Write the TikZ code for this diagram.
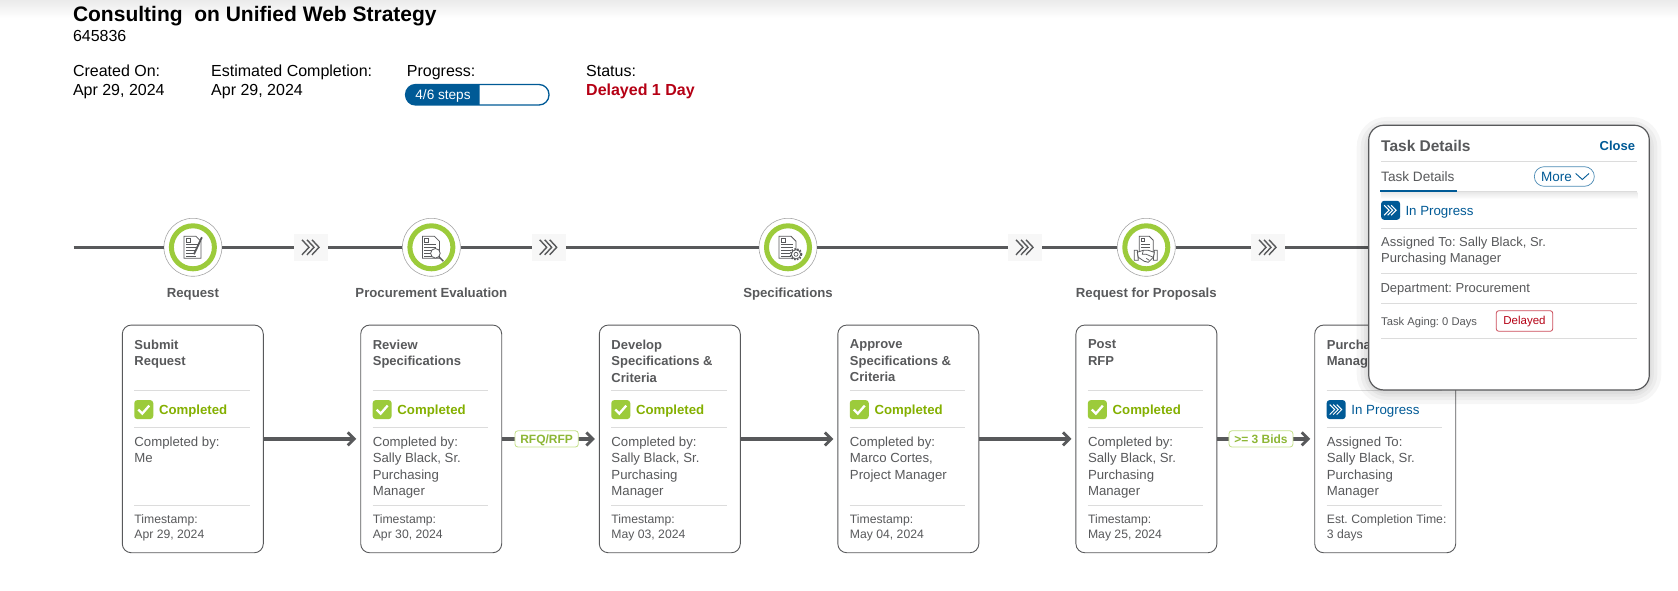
\documentclass[tikz,border=0pt]{standalone}
\usepackage{fontspec}
\setmainfont{Liberation Sans}
\usepackage{tikz}
\usetikzlibrary{calc,arrows.meta}
\frenchspacing
\definecolor{slate}{HTML}{58595B}
\definecolor{rulegray}{HTML}{DCDCDC}
\definecolor{leaf}{HTML}{9CCB3B}
\definecolor{leaftext}{HTML}{84B000}
\definecolor{navy}{HTML}{005A96}
\definecolor{alert}{HTML}{B50014}
\tikzset{
  trackline/.style={draw=slate, line width=3pt},
  flowarrow/.style={draw=slate, line width=3.4pt, shorten >=4pt, -{Straight Barb[length=6.5pt,width=13pt,line width=2.8pt]}},
  taskcard/.style={draw=slate, line width=.9pt, fill=white, rounded corners=9pt, minimum width=141pt, minimum height=227.7pt, inner sep=0pt},
  cardtitle/.style={anchor=north west, inner sep=0pt, align=left, text=slate, font=\bfseries\fontsize{13}{16.5}\selectfont, execute at begin node=\strut},
  cardtext/.style={anchor=north west, inner sep=0pt, align=left, text=slate, font=\fontsize{13.2}{16.5}\selectfont, execute at begin node=\strut},
  cardsmall/.style={anchor=north west, inner sep=0pt, align=left, text=slate, font=\fontsize{12.2}{15}\selectfont, execute at begin node=\strut},
  donetext/.style={anchor=base west, inner sep=0pt, text=leaftext, font=\bfseries\fontsize{13.2}{15}\selectfont},
  runtext/.style={anchor=base west, inner sep=0pt, text=navy, font=\fontsize{13.3}{15}\selectfont},
  edgetag/.style={draw=leaf!60, fill=white, line width=.8pt, rounded corners=3pt, inner sep=0pt, minimum height=16.3pt, text height=8.4pt, text depth=0pt, text=leaf!90!black, font=\bfseries\fontsize{12}{14}\selectfont},
  stepring/.style={circle, draw=gray!70, fill=white, line width=.6pt, minimum size=58pt, inner sep=0pt},
  steplabel/.style={anchor=base, inner sep=0pt, text=slate, font=\bfseries\fontsize{13.2}{15}\selectfont},
  chevbox/.style={fill=black!3, minimum width=34pt, minimum height=27.5pt, inner sep=0pt},
  headbig/.style={anchor=base west, inner sep=0pt, font=\bfseries\fontsize{21}{24}\selectfont},
  headtext/.style={anchor=base west, inner sep=0pt, font=\fontsize{16}{18}\selectfont},
  popupline/.style={anchor=north west, inner sep=0pt, align=left, text=slate, font=\fontsize{13}{16}\selectfont, execute at begin node=\strut},
  softshadow/.style={draw=black, opacity=.035, rounded corners=18pt},
  cardrule/.style={draw=rulegray, line width=.9pt},
  docpage/.pic={
    \draw[slate, line width=.8pt, fill=white] (-9,-11) -- (3,-11) -- (8,-6) -- (8,11) -- (-9,11) -- cycle;
    \draw[slate, line width=.7pt] (-7,-9) rectangle (-3,-5);
    \draw[slate, line width=.7pt] (-7,-2.5) -- (5,-2.5) (-7,0.5) -- (5,0.5) (-7,3.5) -- (3,3.5) (-7,6.5) -- (2,6.5) (-7,9) -- (3,9);
  },
  triplechev/.pic={
    \draw[pic actions, line width=1.4pt] (-9,-7.5) -- (-2,0) -- (-9,7.5) (-4,-7.5) -- (3,0) -- (-4,7.5) (1,-7.5) -- (8,0) -- (1,7.5);
  },
  donebadge/.pic={
    \fill[leaf, rounded corners=3pt] (-9.5,-9.5) rectangle (9.5,9.5);
    \draw[white, line width=2.3pt] (-5.5,0) -- (-1.5,4) -- (5.5,-4);
  },
  runbadge/.pic={
    \fill[navy, rounded corners=3pt] (-9.5,-9.5) rectangle (9.5,9.5);
    \draw[white, line width=1pt] (-6.5,-5) -- (-1.5,0) -- (-6.5,5) (-3,-5) -- (2,0) -- (-3,5) (.5,-5) -- (5.5,0) -- (.5,5);
  }
}
\newcommand{\cardrules}[1]{
  \draw[cardrule] ($(#1.north west)+(12.4,66.3)$) -- ($(#1.north west)+(127.7,66.3)$);
  \draw[cardrule, line width=1.4pt] ($(#1.north west)+(12.4,103)$) -- ($(#1.north west)+(127.7,103)$);
  \draw[cardrule] ($(#1.north west)+(12.4,180.7)$) -- ($(#1.north west)+(127.7,180.7)$);
}
\begin{document}
\begin{tikzpicture}[x=1pt,y=-1pt]
\useasboundingbox (0,0) rectangle (1678,591);
\shade[top color=black!8, bottom color=white] (0,0) rectangle (1678,18);

%%page heading
\node[headbig] (heading) at (72.8,22) {Consulting\ \ on Unified Web Strategy};
\node[headtext] (refnum) at (72.8,41.3) {645836};
\node[headtext] (createdkey) at (72.8,76.4) {Created On:};
\node[headtext] (createdval) at (72.8,96) {Apr 29, 2024};
\node[headtext] (estkey) at (211,76.4) {Estimated Completion:};
\node[headtext] (estval) at (211,96) {Apr 29, 2024};
\node[headtext] (progkey) at (406.7,76.4) {Progress:};
\node[headtext] (statuskey) at (586,76.4) {Status:};
\node[headtext, text=alert, font=\bfseries\fontsize{16}{18}\selectfont] (statusval) at (586,96) {Delayed 1 Day};
\draw[draw=navy, line width=1.3pt, fill=white, rounded corners=10pt] (405.6,84.5) rectangle (549,105);
\fill[navy] (479.5,84.5) [rounded corners=10pt] -- (405.6,84.5) -- (405.6,105) [sharp corners] -- (479.5,105) -- cycle;
\node[anchor=base, inner sep=0pt, text=white, font=\fontsize{13.6}{15}\selectfont] (progtext) at (443,99.5) {4/6 steps};

%%track, left to right
\coordinate (trackstart) at (73.6,247.3);
\coordinate (trackend) at (1380,247.3);
\node[stepring] (request) at (192.9,247.3) {};
\node[stepring] (evaluation) at (431.4,247.3) {};
\node[stepring] (specs) at (788,247.3) {};
\node[stepring] (proposals) at (1146.3,247.3) {};
\node[chevbox] (chevone) at (311,247.3) {};
\node[chevbox] (chevtwo) at (548.7,247.3) {};
\node[chevbox] (chevthree) at (1025,247.3) {};
\node[chevbox] (chevfour) at (1268,247.3) {};
\draw[trackline] (trackstart) -- (request);
\draw[trackline] (request) -- (chevone);
\draw[trackline] (chevone) -- (evaluation);
\draw[trackline] (evaluation) -- (chevtwo);
\draw[trackline] (chevtwo) -- (specs);
\draw[trackline] (specs) -- (chevthree);
\draw[trackline] (chevthree) -- (proposals);
\draw[trackline] (proposals) -- (chevfour);
\draw[trackline] (chevfour) -- (trackend);
\pic[draw=slate] at (chevone) {triplechev};
\pic[draw=slate] at (chevtwo) {triplechev};
\pic[draw=slate] at (chevthree) {triplechev};
\pic[draw=slate] at (chevfour) {triplechev};
\draw[draw=leaf, line width=5pt] (request) circle (21.5);
\draw[draw=leaf, line width=5pt] (evaluation) circle (21.5);
\draw[draw=leaf, line width=5pt] (specs) circle (21.5);
\draw[draw=leaf, line width=5pt] (proposals) circle (21.5);

%%step glyphs
\pic at (request) {docpage};
\draw[slate, line width=1.8pt] ($(request)+(1,7)$) -- ($(request)+(9,-10)$);
\pic at (evaluation) {docpage};
\draw[slate, line width=.8pt, fill=white] ($(evaluation)+(4,6)$) circle (4.8);
\draw[slate, line width=1.5pt] ($(evaluation)+(7.5,9.5)$) -- ($(evaluation)+(12,14)$);
\pic at (specs) {docpage};
\draw[slate, line width=.8pt, fill=white] ($(specs)+(8,7)$) circle (4.6);
\draw[slate, line width=1.6pt, dash pattern=on 1.5pt off 1.5pt] ($(specs)+(8,7)$) circle (5.6);
\draw[slate, line width=.7pt] ($(specs)+(8,7)$) circle (2);
\begin{scope}[shift={(proposals)}]
\draw[slate, line width=.8pt, fill=white] (-7,-11) -- (3,-11) -- (7,-7) -- (7,6) -- (-7,6) -- cycle;
\draw[slate, line width=.7pt] (-5,-9) rectangle (-2,-6) (-5,-3) -- (4,-3) (-5,0) -- (4,0);
\draw[slate, line width=.8pt, fill=white] (-12,3) -- (-9,3) -- (-8,13) -- (-12,13) -- cycle (11,3) -- (8,3) -- (7,13) -- (11,13) -- cycle;
\draw[slate, line width=.8pt, fill=white] (-9,5) -- (-3,3) -- (2,3) -- (8,5) -- (7,10) -- (2,15) -- (-2,14) -- (-8,10) -- cycle;
\draw[slate, line width=.7pt] (-3,3) -- (-4,7) -- (0,7) -- (7,10) (0,11) -- (3,13);
\end{scope}
\node[steplabel] (requestlbl) at (192.9,297) {Request};
\node[steplabel] (evaluationlbl) at (431.4,297) {Procurement Evaluation};
\node[steplabel] (specslbl) at (788,297) {Specifications};
\node[steplabel] (proposalslbl) at (1146.3,297) {Request for Proposals};

%%task cards
\node[taskcard] (submit) at (192.8,438.9) {};
\node[taskcard] (review) at (431.2,438.9) {};
\node[taskcard] (develop) at (669.8,438.9) {};
\node[taskcard] (approve) at (908.3,438.9) {};
\node[taskcard] (post) at (1146.4,438.9) {};
\node[taskcard] (purchase) at (1385.2,438.9) {};
\draw[flowarrow] (submit) -- (review);
\draw[flowarrow] (review) -- node[edgetag, pos=.46, minimum width=63.4pt] (rfqtag) {RFQ/RFP} (develop);
\draw[flowarrow] (develop) -- (approve);
\draw[flowarrow] (approve) -- (post);
\draw[flowarrow] (post) -- node[edgetag, pos=.45, minimum width=64pt] (bidstag) {>= 3 Bids} (purchase);
\cardrules{submit}
\cardrules{review}
\cardrules{develop}
\cardrules{approve}
\cardrules{post}
\cardrules{purchase}

\node[cardtitle] (submittitle) at ($(submit.north west)+(12.4,15)$) {Submit\\Request};
\pic at ($(submit.north west)+(21.9,85)$) {donebadge};
\node[donetext] (submitstate) at ($(submit.north west)+(37,90)$) {Completed};
\node[cardtext] (submitwho) at ($(submit.north west)+(12.4,112)$) {Completed by:\\Me};
\node[cardsmall] (submittime) at ($(submit.north west)+(12.4,189.5)$) {Timestamp:\\Apr 29, 2024};

\node[cardtitle] (reviewtitle) at ($(review.north west)+(12.4,15)$) {Review\\Specifications};
\pic at ($(review.north west)+(21.9,85)$) {donebadge};
\node[donetext] (reviewstate) at ($(review.north west)+(37,90)$) {Completed};
\node[cardtext] (reviewwho) at ($(review.north west)+(12.4,112)$) {Completed by:\\Sally Black, Sr.\\Purchasing\\Manager};
\node[cardsmall] (reviewtime) at ($(review.north west)+(12.4,189.5)$) {Timestamp:\\Apr 30, 2024};

\node[cardtitle] (developtitle) at ($(develop.north west)+(12.4,15)$) {Develop\\Specifications \&\\Criteria};
\pic at ($(develop.north west)+(21.9,85)$) {donebadge};
\node[donetext] (developstate) at ($(develop.north west)+(37,90)$) {Completed};
\node[cardtext] (developwho) at ($(develop.north west)+(12.4,112)$) {Completed by:\\Sally Black, Sr.\\Purchasing\\Manager};
\node[cardsmall] (developtime) at ($(develop.north west)+(12.4,189.5)$) {Timestamp:\\May 03, 2024};

\node[cardtitle] (approvetitle) at ($(approve.north west)+(12.4,15)$) {Approve\\Specifications \&\\Criteria};
\pic at ($(approve.north west)+(21.9,85)$) {donebadge};
\node[donetext] (approvestate) at ($(approve.north west)+(37,90)$) {Completed};
\node[cardtext] (approvewho) at ($(approve.north west)+(12.4,112)$) {Completed by:\\Marco Cortes,\\Project Manager};
\node[cardsmall] (approvetime) at ($(approve.north west)+(12.4,189.5)$) {Timestamp:\\May 04, 2024};

\node[cardtitle] (posttitle) at ($(post.north west)+(12.4,15)$) {Post\\RFP};
\pic at ($(post.north west)+(21.9,85)$) {donebadge};
\node[donetext] (poststate) at ($(post.north west)+(37,90)$) {Completed};
\node[cardtext] (postwho) at ($(post.north west)+(12.4,112)$) {Completed by:\\Sally Black, Sr.\\Purchasing\\Manager};
\node[cardsmall] (posttime) at ($(post.north west)+(12.4,189.5)$) {Timestamp:\\May 25, 2024};

\node[cardtitle] (purchasetitle) at ($(purchase.north west)+(12.4,15)$) {Purcha\\Manag};
\pic at ($(purchase.north west)+(21.9,85)$) {runbadge};
\node[runtext] (purchasestate) at ($(purchase.north west)+(37,90)$) {In Progress};
\node[cardtext] (purchasewho) at ($(purchase.north west)+(12.4,112)$) {Assigned To:\\Sally Black, Sr.\\Purchasing\\Manager};
\node[cardsmall] (purchasetime) at ($(purchase.north west)+(12.4,189.5)$) {Est. Completion Time:\\3 days};

%%popup, sits over the last card
\draw[softshadow, line width=24pt] (1368.7,129) rectangle (1649.3,392);
\draw[softshadow, line width=16pt] (1368.7,129) rectangle (1649.3,392);
\draw[softshadow, line width=9pt] (1368.7,129) rectangle (1649.3,392);
\draw[softshadow, line width=4pt] (1368.7,129) rectangle (1649.3,392);
\node[draw=slate, line width=1.2pt, fill=white, rounded corners=15pt, minimum width=280.6pt, minimum height=264.7pt, inner sep=0pt] (details) at (1509,257.6) {};
\shade[top color=black!9, bottom color=white] (1381,192) rectangle (1637.3,199);
\node[anchor=base west, inner sep=0pt, text=slate, font=\bfseries\fontsize{15.5}{18}\selectfont] (detailshead) at (1381,151.5) {Task Details};
\node[anchor=base east, inner sep=0pt, text=navy, font=\bfseries\fontsize{13}{16}\selectfont] (detailsclose) at (1635.3,150) {Close};
\draw[cardrule] (1381,161.7) -- (1637.3,161.7);
\node[anchor=base west, inner sep=0pt, text=slate, font=\fontsize{13.6}{16}\selectfont] (detailstab) at (1381,181.5) {Task Details};
\node[draw=navy!70, line width=.7pt, rounded corners=9.8pt, minimum width=60pt, minimum height=19.6pt, inner sep=0pt] (morepill) at (1564.3,176.5) {};
\node[anchor=base west, inner sep=0pt, text=navy, font=\fontsize{13.5}{16}\selectfont] (moretext) at (1541,181) {More};
\draw[navy, line width=.9pt] (1575.7,173.5) -- (1582.3,179.5) -- (1589,173.5);
\draw[cardrule] (1381,191.3) -- (1637.3,191.3);
\draw[navy, line width=1.8pt] (1380,191.3) -- (1457.3,191.3);
\pic at (1390.6,210.3) {runbadge};
\node[runtext] (detailsstate) at (1405.3,215) {In Progress};
\draw[cardrule] (1381,228) -- (1637.3,228);
\node[popupline] (detailsassign) at (1381,237) {Assigned To: Sally Black, Sr.\\Purchasing Manager};
\draw[cardrule] (1381,273) -- (1637.3,273);
\node[popupline] (detailsdept) at (1380.3,281) {Department: Procurement};
\draw[cardrule] (1381,303.3) -- (1637.3,303.3);
\node[anchor=base west, inner sep=0pt, text=slate, font=\fontsize{11.2}{14}\selectfont] (detailsaging) at (1381,325) {Task Aging: 0 Days};
\node[draw=alert!70, line width=.8pt, rounded corners=2.5pt, minimum width=56.4pt, minimum height=20.6pt, inner sep=0pt, text height=8.4pt, text depth=2.4pt, text=alert, font=\fontsize{11.5}{14}\selectfont] (detailsflag) at (1524.5,321) {Delayed};
\draw[cardrule] (1381,338) -- (1637.3,338);
\end{tikzpicture}
\end{document}
